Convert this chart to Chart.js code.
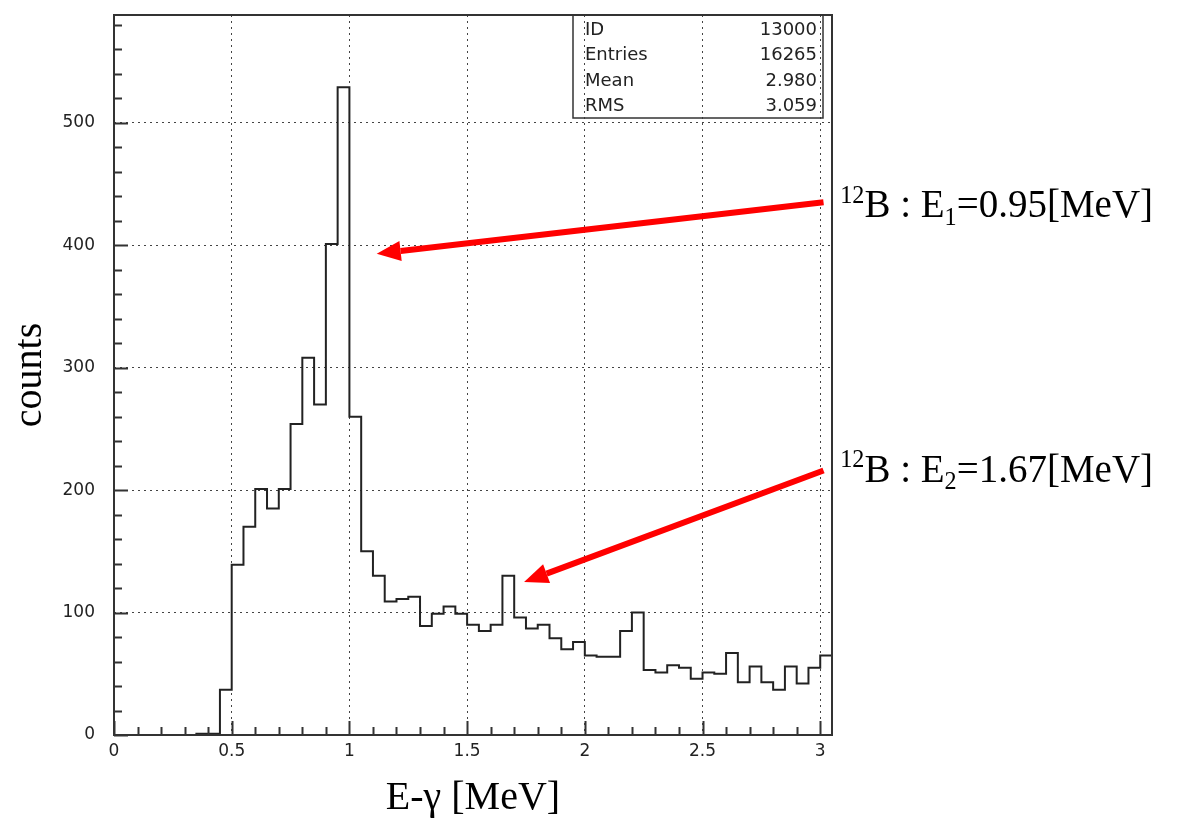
<!DOCTYPE html>
<html>
<head>
<meta charset="utf-8">
<script src="https://cdn.jsdelivr.net/npm/chart.js@4.4.0/dist/chart.umd.min.js"></script>
<style>
  html, body { margin: 0; padding: 0; background: #fff; }
  #wrap { width: 1178px; height: 829px; }
</style>
</head>
<body>
<div id="wrap"><canvas id="chartCanvas" width="1178" height="829"></canvas></div>
<script>
// histogram: 61 bins of 0.05 MeV starting at 0
const binLow = 0;
const binWidth = 0.05;
const counts = [
  0, 0, 0, 0, 0, 0, 0, 1, 1, 37,
  139, 170, 201, 185, 201, 254, 308, 270, 401, 529,
  260, 150, 130, 109, 111, 113, 89, 99, 105, 99,
  90, 85, 90, 130, 96, 87, 90, 79, 70, 76,
  65, 64, 64, 85, 100, 53, 51, 57, 55, 46,
  51, 50, 67, 43, 56, 43, 37, 56, 42, 55,
  65
];

// stats box
const statLabels = ['ID', 'Entries', 'Mean', 'RMS'];
const statValues = ['13000', '16265', '2.980', '3.059'];

// arrows (data coords) and their labels
const arrowFrom = [[3.014, 435], [3.014, 216]];
const arrowTo = [[1.116, 393], [1.742, 125]];
const labelAt = [[3.085, 423], [3.085, 207]];
const labelParts = [
  [['12', 'sup'], ['B : E', ''], ['1', 'sub'], ['=0.95[MeV]', '']],
  [['12', 'sup'], ['B : E', ''], ['2', 'sub'], ['=1.67[MeV]', '']]
];

const xMax = 3.05;
const yMax = 588;

const points = counts.map((c, i) => ({ x: +(binLow + i * binWidth).toFixed(2), y: c }));
points.push({ x: xMax, y: counts[counts.length - 1] });

const tickFont = { family: 'DejaVu Sans', size: 17 };
const titleFont = { family: 'Liberation Serif', size: 40 };

const drawRich = (ctx, x, y, parts, size) => {
  parts.forEach(([t, kind]) => {
    let fs = size, dy = 0;
    if (kind === 'sup') { fs = size * 0.62; dy = -size * 0.36; }
    if (kind === 'sub') { fs = size * 0.62; dy = size * 0.2; }
    ctx.font = fs + 'px "Liberation Serif"';
    ctx.fillText(t, x, y + dy);
    x += ctx.measureText(t).width;
  });
};

const decorations = {
  id: 'decorations',
  afterDatasetsDraw(chart) {
    const { ctx, chartArea: a, scales: { x, y } } = chart;
    ctx.save();
    ctx.strokeStyle = '#333';
    ctx.lineWidth = 2;

    // inside ticks
    ctx.beginPath();
    for (let k = 0; k <= 30; k++) {
      const px = Math.round(x.getPixelForValue(k / 10)) + 0.5;
      const len = k % 5 === 0 ? 14 : 8;
      ctx.moveTo(px, a.bottom);
      ctx.lineTo(px, a.bottom - len);
    }
    for (let k = 0; k <= 29; k++) {
      const py = Math.round(y.getPixelForValue(k * 20)) + 0.5;
      const len = k % 5 === 0 ? 14 : 8;
      ctx.moveTo(a.left, py);
      ctx.lineTo(a.left + len, py);
    }
    ctx.stroke();

    // frame
    ctx.strokeRect(a.left, a.top, a.right - a.left, a.bottom - a.top);

    // stats box
    const bw = 250, bh = 103;
    const bx = a.right - 9 - bw, by = a.top;
    ctx.lineWidth = 1.5;
    ctx.strokeRect(bx, by, bw, bh);
    ctx.fillStyle = '#222';
    ctx.font = '18px "DejaVu Sans"';
    ctx.textBaseline = 'middle';
    statLabels.forEach((lab, i) => {
      const ry = by + 15 + i * 25.5;
      ctx.textAlign = 'left';
      ctx.fillText(lab, bx + 12, ry);
      ctx.textAlign = 'right';
      ctx.fillText(statValues[i], bx + bw - 6, ry);
    });
    ctx.restore();
  },
  afterDraw(chart) {
    const { ctx, scales: { x, y } } = chart;
    ctx.save();
    ctx.strokeStyle = '#ff0000';
    ctx.fillStyle = '#ff0000';
    arrowFrom.forEach((f, i) => {
      const x1 = x.getPixelForValue(f[0]), y1 = y.getPixelForValue(f[1]);
      const x2 = x.getPixelForValue(arrowTo[i][0]), y2 = y.getPixelForValue(arrowTo[i][1]);
      const ang = Math.atan2(y2 - y1, x2 - x1);
      const headLen = 24, headW = 10;
      const bx = x2 - headLen * Math.cos(ang), by = y2 - headLen * Math.sin(ang);
      ctx.lineWidth = 6;
      ctx.beginPath();
      ctx.moveTo(x1, y1);
      ctx.lineTo(bx, by);
      ctx.stroke();
      ctx.beginPath();
      ctx.moveTo(x2, y2);
      ctx.lineTo(bx + headW * Math.sin(ang), by - headW * Math.cos(ang));
      ctx.lineTo(bx - headW * Math.sin(ang), by + headW * Math.cos(ang));
      ctx.closePath();
      ctx.fill();
    });

    ctx.fillStyle = '#000';
    ctx.textAlign = 'left';
    ctx.textBaseline = 'alphabetic';
    labelParts.forEach((parts, i) => {
      const lx = x.getPixelForValue(labelAt[i][0]);
      const ly = y.getPixelForValue(labelAt[i][1]);
      drawRich(ctx, lx, ly, parts, 39);
    });
    ctx.restore();
  }
};

const ctx = document.getElementById('chartCanvas').getContext('2d');
new Chart(ctx, {
  type: 'line',
  data: {
    datasets: [{
      data: points,
      stepped: true,
      borderColor: '#222',
      borderWidth: 2,
      pointRadius: 0,
      fill: false
    }]
  },
  options: {
    responsive: false,
    animation: false,
    layout: { padding: { left: 0, top: 15, right: 346, bottom: 0 } },
    plugins: { legend: { display: false }, tooltip: { enabled: false } },
    scales: {
      x: {
        type: 'linear',
        min: 0,
        max: xMax,
        afterFit: (s) => { s.height = 94; s.paddingLeft = 0; s.paddingRight = 0; },
        grid: { color: '#444', lineWidth: 1, drawTicks: false },
        border: { display: false, dash: [2, 4] },
        ticks: { stepSize: 0.5, includeBounds: false, padding: 6, color: '#222', font: tickFont, maxRotation: 0,
                 callback: (v) => String(v) },
        title: { display: true, text: 'E-γ [MeV]', color: '#000', font: titleFont, padding: { top: 0, bottom: 7 } }
      },
      y: {
        min: 0,
        max: yMax,
        afterFit: (s) => { s.width = 114; s.paddingTop = 0; s.paddingBottom = 0; },
        grid: { color: '#444', lineWidth: 1, drawTicks: false },
        border: { display: false, dash: [2, 4] },
        ticks: { stepSize: 100, includeBounds: false, padding: 19, color: '#222', font: tickFont },
        title: { display: true, text: 'counts', color: '#000', font: titleFont, padding: { top: 6, bottom: 0 } }
      }
    }
  },
  plugins: [decorations]
});
</script>
</body>
</html>
